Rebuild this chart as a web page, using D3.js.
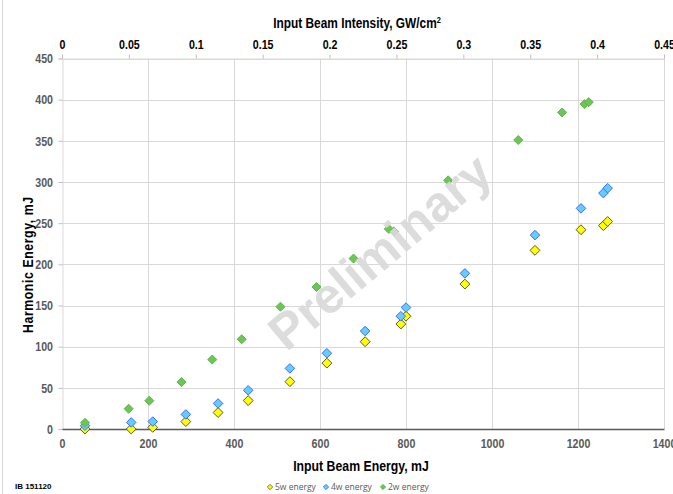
<!DOCTYPE html>
<html>
<head>
<meta charset="utf-8">
<script src="https://cdn.jsdelivr.net/npm/d3@7"></script>
<style>
  html, body { margin: 0; padding: 0; background: #ffffff; }
  svg { display: block; }
  .narrow { font-family: "Liberation Sans Narrow", "Arial Narrow", "Liberation Sans", Arial, sans-serif; }
</style>
</head>
<body>
<svg id="chart" width="673" height="494"></svg>
<script>
// Input beam energy (mJ) for each shot and the harmonic energies measured
const energy5w = [53.5, 161, 211, 288, 363, 433, 530, 616, 705, 788, 800, 937, 1100, 1207, 1259, 1269];
const harm5w   = [0, 0, 2, 9, 20, 34.5, 57.5, 80, 106, 127.5, 137, 176, 217, 242, 247, 252];
const energy4w = [53.5, 161, 211, 288, 363, 433, 530, 616, 705, 788, 800, 937, 1100, 1207, 1259, 1269];
const harm4w   = [4, 8, 9, 17.7, 31, 47, 73.6, 92, 119, 137, 147.5, 189, 235.5, 268, 286.5, 292.5];
const energy2w = [53.5, 155, 203, 278, 349.5, 418, 508, 592, 678, 760, 772, 898, 1061, 1163, 1215, 1225];
const harm2w   = [7.6, 24.6, 34.3, 57, 84.3, 109, 148.5, 172.5, 207, 243, 240, 302, 351, 384.5, 394.7, 397];

const xTicks = [0, 200, 400, 600, 800, 1000, 1200, 1400];
const yTicks = [0, 50, 100, 150, 200, 250, 300, 350, 400, 450];
const topTicks = [0, 0.05, 0.1, 0.15, 0.2, 0.25, 0.3, 0.35, 0.4, 0.45];

const seriesNames = ["5w energy", "4w energy", "2w energy"];

const series = [
  { name: seriesNames[0], xs: energy5w, ys: harm5w, fill: "#ffff00", stroke: "#5f5a2a", size: 62 },
  { name: seriesNames[1], xs: energy4w, ys: harm4w, fill: "#66ccff", stroke: "#3a6cff", size: 58 },
  { name: seriesNames[2], xs: energy2w, ys: harm2w, fill: "#6cc554", stroke: "#5cb84a", size: 52 }
];

const svg = d3.select("#chart");
const plotL = 62, plotR = 664, plotT = 58.5, plotB = 429;
const SQUEEZE = 0.82; // horizontal compression to get a condensed face

const x = d3.scaleLinear().domain([0, 1400]).range([plotL, plotR]);
const xTop = d3.scaleLinear().domain([0, 0.45]).range([plotL, plotR]);
const y = d3.scaleLinear().domain([0, 450]).range([plotB, plotT]);

// faint chart frame edge on the left
svg.append("line").attr("x1", 2.5).attr("x2", 2.5).attr("y1", 0).attr("y2", 494)
  .attr("stroke", "#d9d9d9").attr("stroke-width", 1);

// gridlines
const grid = svg.append("g");
grid.selectAll("line.h").data(yTicks.filter(d => d > 0)).join("line")
  .attr("x1", plotL).attr("x2", plotR)
  .attr("y1", d => Math.round(y(d)) + 0.5).attr("y2", d => Math.round(y(d)) + 0.5)
  .attr("stroke", "#d9d9d9").attr("stroke-width", 1);
grid.selectAll("line.v").data(xTicks.filter(d => d > 0)).join("line")
  .attr("x1", d => Math.round(x(d)) + 0.5).attr("x2", d => Math.round(x(d)) + 0.5)
  .attr("y1", plotT).attr("y2", plotB)
  .attr("stroke", "#d9d9d9").attr("stroke-width", 1);

// left axis
const yAxis = d3.axisLeft(y).tickValues(yTicks).tickSize(4).tickPadding(5).tickFormat(d3.format("d"));
const gy = svg.append("g").attr("transform", `translate(${plotL + 0.5},0)`).call(yAxis);
gy.select(".domain").attr("stroke", "#d9d9d9");
gy.selectAll(".tick line").attr("stroke", "#bfbfbf");
gy.selectAll(".tick text").attr("class", "narrow").attr("fill", "#595959")
  .attr("font-size", 13).attr("font-weight", "bold")
  .attr("x", -9.5 / SQUEEZE).attr("transform", `scale(${SQUEEZE},1)`);

// bottom axis
const xAxis = d3.axisBottom(x).tickValues(xTicks).tickSize(0).tickPadding(10).tickFormat(d3.format("d"));
const gx = svg.append("g").attr("transform", `translate(0,${plotB})`).call(xAxis);
gx.select(".domain").attr("stroke", "#595959").attr("stroke-width", 1.6);
gx.selectAll(".tick text").attr("class", "narrow").attr("fill", "#595959")
  .attr("font-size", 13).attr("font-weight", "bold").attr("transform", `scale(${SQUEEZE},1)`);

// top axis (intensity)
const topAxis = d3.axisTop(xTop).tickValues(topTicks).tickSize(4).tickPadding(6)
  .tickFormat(d => d === 0 ? "0" : String(+d.toFixed(2)));
const gt = svg.append("g").attr("transform", `translate(0,${plotT})`).call(topAxis);
gt.select(".domain").attr("stroke", "#d9d9d9");
gt.selectAll(".tick line").attr("stroke", "#bfbfbf");
gt.selectAll(".tick text").attr("class", "narrow").attr("fill", "#000000")
  .attr("font-size", 13).attr("font-weight", "bold").attr("transform", `scale(${SQUEEZE},1)`);

// axis titles (condensed)
function title(cx, cy, rot, str, size) {
  const g = svg.append("g").attr("transform", `translate(${cx},${cy}) rotate(${rot}) scale(${SQUEEZE},1)`);
  return g.append("text").attr("class", "narrow").attr("text-anchor", "middle")
    .attr("font-size", size).attr("font-weight", "bold").attr("fill", "#000").text(str);
}
title(357, 28, 0, "Input Beam Intensity, GW/cm", 14.5)
  .append("tspan").attr("font-size", 9).attr("dy", -5.5).text("2");
title(361, 471, 0, "Input Beam Energy, mJ", 15);
title(33, 265, -90, "Harmonic Energy, mJ", 15)
  .attr("textLength", 136 / SQUEEZE).attr("lengthAdjust", "spacing");

// data points
const diamond = s => d3.symbol().type(d3.symbolDiamond2).size(s)();
series.forEach(s => {
  svg.append("g").selectAll("path").data(d3.range(s.xs.length)).join("path")
    .attr("d", diamond(s.size))
    .attr("transform", i => `translate(${x(s.xs[i])},${y(s.ys[i])})`)
    .attr("fill", s.fill).attr("stroke", s.stroke).attr("stroke-width", 1);
});

// watermark
svg.append("text")
  .attr("transform", "translate(380,252) rotate(-40)")
  .attr("text-anchor", "middle").attr("dominant-baseline", "central")
  .attr("font-family", "Liberation Sans, Arial, sans-serif")
  .attr("font-size", 50).attr("font-weight", "bold")
  .attr("fill", "#d9d9d9").attr("fill-opacity", 0.92)
  .text("Preliminary");

// legend
const legendX = [270, 326, 383];
const lg = svg.append("g");
series.forEach((s, i) => {
  lg.append("path").attr("d", diamond(18))
    .attr("transform", `translate(${legendX[i]},487)`)
    .attr("fill", s.fill).attr("stroke", s.stroke).attr("stroke-width", 0.8);
  lg.append("text").attr("x", legendX[i] + 5).attr("y", 490)
    .attr("font-family", "Open Sans, Lato, sans-serif").attr("font-size", 8.5)
    .attr("fill", "#595959").text(s.name);
});

// plate label
svg.append("text").attr("class", "narrow").attr("x", 15).attr("y", 489)
  .attr("font-size", 8).attr("font-weight", "bold").attr("fill", "#000").text("IB 151120");
</script>
</body>
</html>
